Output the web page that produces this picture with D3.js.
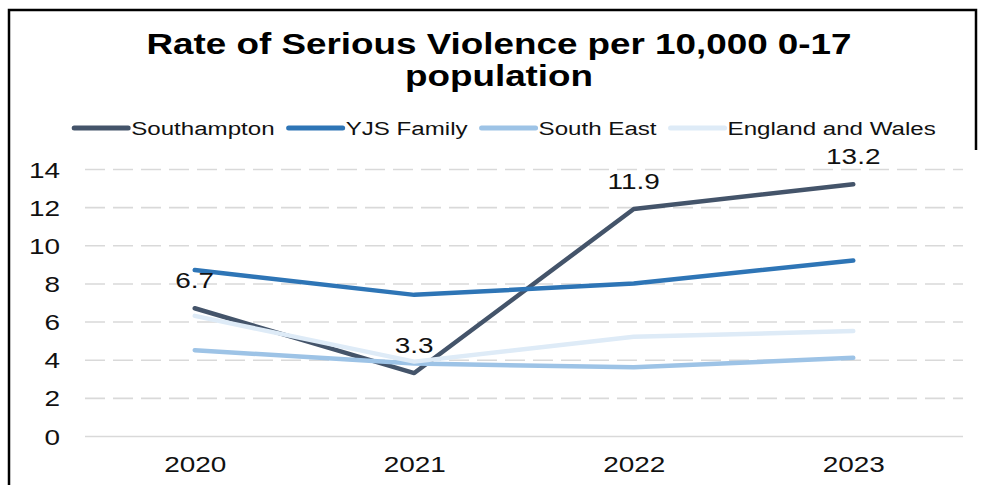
<!DOCTYPE html>
<html>
<head>
<meta charset="utf-8">
<script src="https://cdn.jsdelivr.net/npm/d3@7"></script>
<style>
  body { margin: 0; background: #fff; }
  svg { display: block; font-family: "Liberation Sans", Arial, sans-serif; }
</style>
</head>
<body>
<div id="chart"></div>
<script>
/* data */
var years = ["2020", "2021", "2022", "2023"];
var seriesNames = ["Southampton", "YJS Family", "South East", "England and Wales"];
var southampton = [6.7, 3.3, 11.9, 13.2];
var yjsFamily = [8.7, 7.4, 8.0, 9.2];
var southEast = [4.5, 3.8, 3.6, 4.1];
var englandWales = [6.3, 3.9, 5.2, 5.5];
var yTicks = [0, 2, 4, 6, 8, 10, 12, 14];
var titleLines = ["Rate of Serious Violence per 10,000 0-17", "population"];

var colors = ["#44546A", "#2E75B6", "#9DC3E6", "#DEEBF7"];
var allValues = [southampton, yjsFamily, southEast, englandWales];

/* size */
var width = 981;
var height = 485;
var sx = 1.27; // picture text is stretched sideways

var plotL = 85, plotR = 963, plotT = 169, plotB = 436;

var svg = d3.select("#chart").append("svg")
			.attr("width", width)
			.attr("height", height);

/* border */
svg.append("path")
   .attr("d", "M9,485 L9,10 L976,10 L976,150")
   .attr("fill", "none")
   .attr("stroke", "#000")
   .attr("stroke-width", 2.5);

/* scales */
var x = d3.scalePoint().domain(years).range([plotL, plotR]).padding(0.5);
var y = d3.scaleLinear().domain([0, 14]).range([plotB, plotT]);

/* title */
svg.selectAll(".title")
   .data(titleLines)
   .enter().append("text")
   .attr("class", "title")
   .attr("text-anchor", "middle")
   .attr("transform", function(d, i){ return "translate(499," + (54 + i*32) + ") scale(" + sx + ",1)"; })
   .attr("font-size", 29)
   .attr("font-weight", "bold")
   .attr("fill", "#000")
   .text(function(d){ return d; });

/* y axis + grid */
var yAxis = svg.append("g")
			   .attr("transform", "translate(" + plotL + ",0)")
			   .call(d3.axisLeft(y).tickValues(yTicks).tickSize(-(plotR - plotL)).tickPadding(0));
yAxis.select(".domain").remove();
yAxis.selectAll(".tick line")
	 .attr("stroke", "#d9d9d9")
	 .attr("stroke-width", 1.6)
	 .attr("stroke-dasharray", function(d){ return d === 0 ? null : "20,8"; });
yAxis.selectAll(".tick text")
	 .attr("x", 0)
	 .attr("dy", null)
	 .attr("y", 8)
	 .attr("text-anchor", "end")
	 .attr("transform", "translate(-25,0) scale(" + sx + ",1)")
	 .attr("font-size", 22)
	 .attr("font-family", "Liberation Sans, Arial, sans-serif")
	 .attr("fill", "#111");

/* x axis */
var xAxis = svg.append("g")
			   .attr("transform", "translate(0," + plotB + ")")
			   .call(d3.axisBottom(x).tickSize(0).tickPadding(0));
xAxis.select(".domain").remove();
xAxis.selectAll(".tick text")
	 .attr("y", 0)
	 .attr("dy", null)
	 .attr("transform", "translate(0,36) scale(" + sx + ",1)")
	 .attr("font-size", 22)
	 .attr("font-family", "Liberation Sans, Arial, sans-serif")
	 .attr("fill", "#111");

/* lines */
var line = d3.line()
			 .x(function(d, i){ return x(years[i]); })
			 .y(function(d){ return y(d); });

svg.selectAll(".series")
   .data(allValues)
   .enter().append("path")
   .attr("class", "series")
   .attr("d", line)
   .attr("fill", "none")
   .attr("stroke", function(d, i){ return colors[i]; })
   .attr("stroke-width", 4.5)
   .attr("stroke-linecap", "round")
   .attr("stroke-linejoin", "round");

/* data labels (Southampton) */
svg.selectAll(".lbl")
   .data(southampton)
   .enter().append("text")
   .attr("class", "lbl")
   .attr("text-anchor", "middle")
   .attr("transform", function(d, i){ return "translate(" + x(years[i]) + "," + (y(d) - 20) + ") scale(" + sx + ",1)"; })
   .attr("font-size", 22)
   .attr("fill", "#111")
   .text(function(d){ return d.toFixed(1); });

/* legend */
var legend = svg.append("g");
var items = legend.selectAll(".item")
				  .data(seriesNames)
				  .enter().append("g")
				  .attr("class", "item");

items.append("line")
	 .attr("x1", 0).attr("x2", 54)
	 .attr("y1", 128).attr("y2", 128)
	 .attr("stroke", function(d, i){ return colors[i]; })
	 .attr("stroke-width", 5)
	 .attr("stroke-linecap", "round");

items.append("text")
	 .attr("transform", "translate(57,135) scale(" + sx + ",1)")
	 .attr("font-size", 19)
	 .attr("fill", "#111")
	 .text(function(d){ return d; });

var pos = 0;
var offsets = [];
items.each(function(){
	var w = d3.select(this).select("text").node().getComputedTextLength() * sx;
	offsets.push(pos);
	pos += 57 + w + 14;
});
var total = pos - 14;
var start = 505 - total / 2;
items.attr("transform", function(d, i){ return "translate(" + (start + offsets[i]) + ",0)"; });
</script>
</body>
</html>
